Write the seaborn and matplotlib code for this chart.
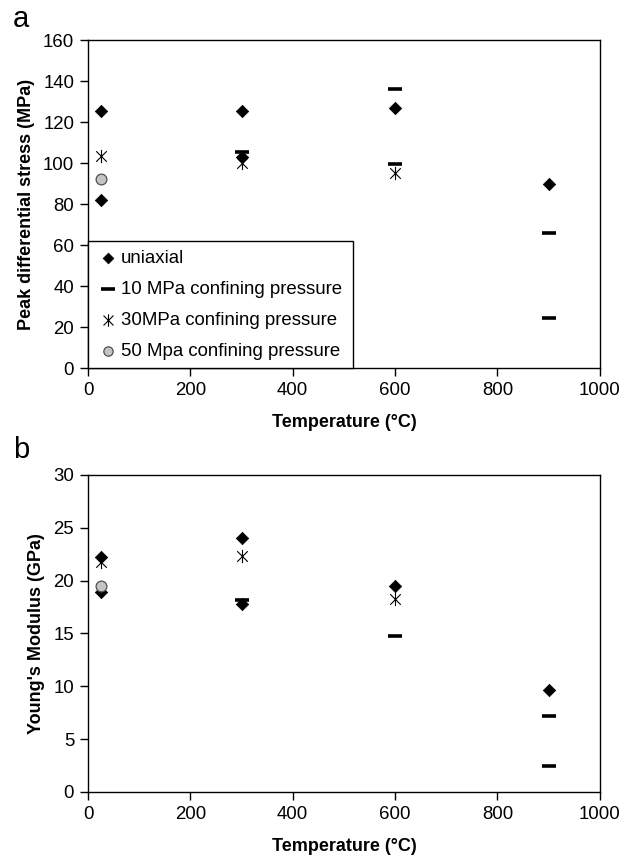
import numpy as np
import matplotlib
matplotlib.use("Agg")
import matplotlib.pyplot as plt
from matplotlib.path import Path
import seaborn as sns

# данные
series_names = ["uniaxial", "10 MPa confining pressure",
                "30MPa confining pressure", "50 Mpa confining pressure"]

# (a) пиковое дифференциальное напряжение, МПа
stress_uniaxial_T = [25, 25, 300, 300, 600, 900]
stress_uniaxial = [125.5, 82, 125.5, 103, 127, 90]
stress_10_T = [300, 600, 600, 900, 900]
stress_10 = [105.5, 136, 99.5, 66, 24.5]
stress_30_T = [25, 300, 600]
stress_30 = [103.5, 100, 95]
stress_50_T = [25]
stress_50 = [92.5]

# (b) модуль Юнга, ГПа
E_uniaxial_T = [25, 25, 300, 300, 600, 900]
E_uniaxial = [22.2, 18.9, 24.0, 17.8, 19.5, 9.6]
E_10_T = [300, 600, 900, 900]
E_10 = [18.2, 14.8, 7.2, 2.5]
E_30_T = [25, 300, 600]
E_30 = [21.8, 22.3, 18.3]
E_50_T = [25]
E_50 = [19.5]

sns.set_style("ticks")
plt.rcParams["font.family"] = ["Liberation Sans", "DejaVu Sans"]
plt.rcParams["text.color"] = "black"
plt.rcParams["axes.labelcolor"] = "black"

# звёздочка как в Excel: X + вертикальная линия
asterisk = Path([(0, -1), (0, 1), (-0.8, -0.8), (0.8, 0.8), (-0.8, 0.8), (0.8, -0.8)],
                [Path.MOVETO, Path.LINETO, Path.MOVETO, Path.LINETO, Path.MOVETO, Path.LINETO])

styles = [
    dict(marker="D", s=40, color="black", edgecolor="black", linewidth=0.5),
    dict(marker="_", s=110, color="black", edgecolor="black", linewidth=2.6),
    dict(marker=asterisk, s=90, color="black", edgecolor="black", linewidth=0.8),
    dict(marker="o", s=60, color="#c4c4c4", edgecolor="#505050", linewidth=0.9),
]


def draw_panel(ax, groups, ymax, ystep, ylabel):
    for (xs, ys), name, st in zip(groups, series_names, styles):
        sns.scatterplot(x=xs, y=ys, ax=ax, label=name, zorder=3, **st)
    ax.set_xlim(0, 1000)
    ax.set_ylim(0, ymax)
    ax.set_xticks(np.arange(0, 1001, 200))
    ax.set_yticks(np.arange(0, ymax + 1, ystep))
    ax.tick_params(direction="out", length=6, width=1, labelsize=13.4,
                   colors="black", pad=4)
    for sp in ax.spines.values():
        sp.set_visible(True)
        sp.set_color("black")
        sp.set_linewidth(1)
    ax.set_xlabel("Temperature (°C)", fontsize=13, fontweight="bold", labelpad=11)
    ax.set_ylabel(ylabel, fontsize=13, fontweight="bold", labelpad=6)


fig = plt.figure(figsize=(6.31, 8.58), dpi=100)
ax1 = fig.add_axes([0.1395, 0.571, 0.811, 0.382])
ax2 = fig.add_axes([0.1395, 0.077, 0.811, 0.3695])

draw_panel(ax1, [(stress_uniaxial_T, stress_uniaxial), (stress_10_T, stress_10),
                 (stress_30_T, stress_30), (stress_50_T, stress_50)],
           160, 20, "Peak differential stress (MPa)")
draw_panel(ax2, [(E_uniaxial_T, E_uniaxial), (E_10_T, E_10),
                 (E_30_T, E_30), (E_50_T, E_50)],
           30, 5, "Young's Modulus (GPa)")

leg = ax1.legend(loc="lower left", bbox_to_anchor=(0, 0, 0.518, 0.375), mode="expand",
                 borderaxespad=0, fontsize=13.4, frameon=True, fancybox=False,
                 handletextpad=0.1, labelspacing=0.75, borderpad=0.45, handlelength=1.2)
leg.get_frame().set_edgecolor("black")
leg.get_frame().set_linewidth(1)
leg.get_frame().set_alpha(1)
for h, sz in zip(leg.legend_handles, [30, 110, 80, 45]):
    h.set_sizes([sz])
for t in leg.get_texts():
    t.set_color("black")
ax2.get_legend().remove()

fig.text(0.02, 0.978, "a", fontsize=21, va="center")
fig.text(0.02, 0.475, "b", fontsize=21, va="center")

plt.savefig("out.png", dpi=100)
